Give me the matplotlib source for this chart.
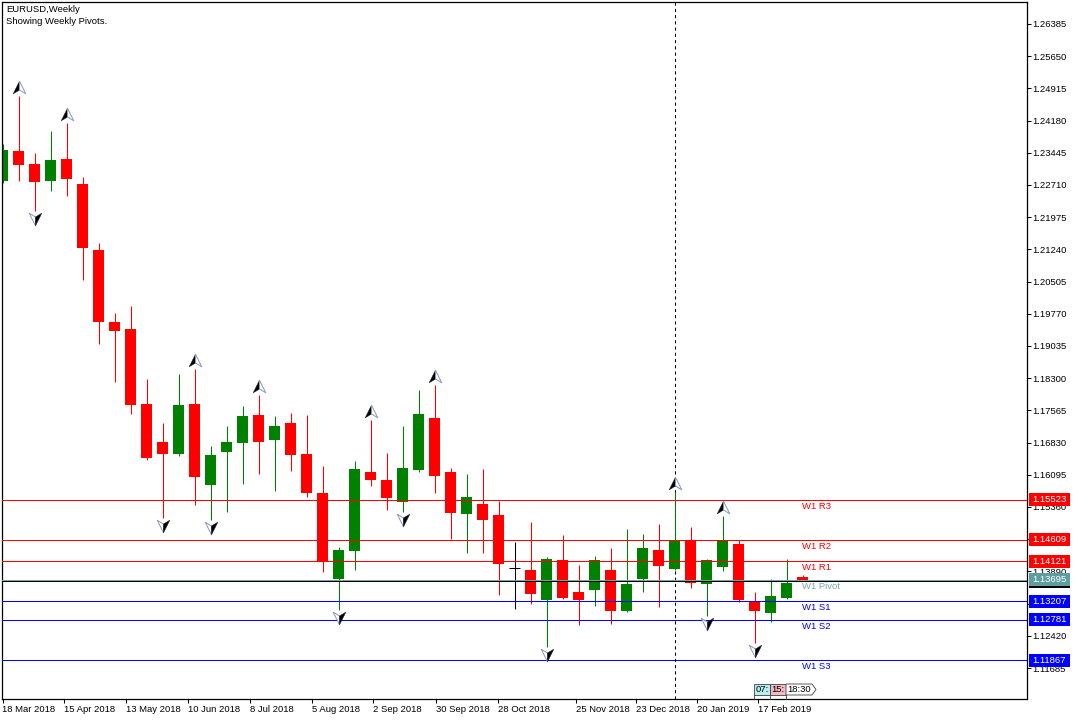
import matplotlib
matplotlib.use("Agg")
import numpy as np
import matplotlib.pyplot as plt
from matplotlib.path import Path
from matplotlib.patches import Rectangle, Polygon
from matplotlib import transforms
from matplotlib.ticker import FormatStrFormatter

plt.rcParams['font.family'] = ['Liberation Sans', 'DejaVu Sans']

title = "EURUSD,Weekly"
subtitle = "Showing Weekly Pivots."

# weekly OHLC, oldest first
opens = [1.22808, 1.23486, 1.23189, 1.22808, 1.23303, 1.22733, 1.21226, 1.19583, 1.19423, 1.17711,
         1.16844, 1.16570, 1.17711, 1.15869, 1.16615, 1.16828, 1.17460, 1.16889, 1.17277, 1.16570,
         1.15680, 1.13717, 1.14363, 1.16159, 1.15976, 1.15481, 1.16211, 1.17392, 1.16159, 1.15207,
         1.15429, 1.15177, 1.13961, 1.13922, 1.13244, 1.14150, 1.13427, 1.13472, 1.13922, 1.12986,
         1.13717, 1.14379, 1.13945, 1.14584, 1.13602, 1.13990, 1.14515, 1.13221, 1.12933, 1.13290,
         1.13770]
highs = [1.23650, 1.24742, 1.23440, 1.23943, 1.24118, 1.22893, 1.21379, 1.19788, 1.19948, 1.18282,
         1.17277, 1.18396, 1.18510, 1.16752, 1.17209, 1.17665, 1.17917, 1.17437, 1.17506, 1.17460,
         1.16296, 1.14447, 1.16410, 1.17346, 1.16593, 1.17209, 1.18031, 1.18145, 1.16250, 1.16113,
         1.16227, 1.15497, 1.14554, 1.15018, 1.14219, 1.14721, 1.14036, 1.14242, 1.14424, 1.14858,
         1.14744, 1.14972, 1.15702, 1.14904, 1.14173, 1.15155, 1.14607, 1.13420, 1.13717, 1.14183,
         1.13800]
lows = [1.22750, 1.22808, 1.22123, 1.22580, 1.22466, 1.20548, 1.19087, 1.18220, 1.17490, 1.16433,
        1.15116, 1.16524, 1.15412, 1.15070, 1.15253, 1.15892, 1.16120, 1.15732, 1.16189, 1.15595,
        1.13883, 1.13009, 1.13922, 1.15846, 1.15298, 1.15253, 1.16166, 1.15686, 1.14630, 1.14317,
        1.14317, 1.13358, 1.13025, 1.13153, 1.12158, 1.13260, 1.12673, 1.13107, 1.12696, 1.12963,
        1.13420, 1.13077, 1.13922, 1.13511, 1.12872, 1.13899, 1.13191, 1.12249, 1.12742, 1.13269,
        1.13660]
closes = [1.23509, 1.23173, 1.22785, 1.23281, 1.22854, 1.21279, 1.19590, 1.19384, 1.17695, 1.16479,
          1.16570, 1.17688, 1.16052, 1.16547, 1.16844, 1.17437, 1.16844, 1.17209, 1.16547, 1.15673,
          1.14111, 1.14379, 1.16227, 1.15983, 1.15572, 1.16250, 1.17483, 1.16074, 1.15230, 1.15588,
          1.15070, 1.14066, 1.13961, 1.13381, 1.14173, 1.13283, 1.13244, 1.14150, 1.12993, 1.13602,
          1.14424, 1.14013, 1.14614, 1.13625, 1.14150, 1.14614, 1.13237, 1.12993, 1.13335, 1.13633,
          1.13668]

# bars carrying a fractal arrow
up_fractals = [1, 4, 12, 16, 23, 27, 42, 45]
down_fractals = [2, 10, 13, 21, 25, 34, 44, 47]

pivot_names = ["W1 R3", "W1 R2", "W1 R1", "W1 Pivot", "W1 S1", "W1 S2", "W1 S3"]
pivot_levels = [1.15523, 1.14609, 1.14121, 1.13695, 1.13207, 1.12781, 1.11867]
pivot_colors = ["#ff0000", "#ff0000", "#ff0000", "#5f9ea0", "#0000ff", "#0000ff", "#0000ff"]

price_ticks = [1.26385, 1.25650, 1.24915, 1.24180, 1.23445, 1.22710, 1.21975, 1.21240, 1.20505,
               1.19770, 1.19035, 1.18300, 1.17565, 1.16830, 1.16095, 1.15360, 1.14625, 1.13890,
               1.13155, 1.12420, 1.11685]
date_labels = ["18 Mar 2018", "15 Apr 2018", "13 May 2018", "10 Jun 2018", "8 Jul 2018",
               "5 Aug 2018", "2 Sep 2018", "30 Sep 2018", "28 Oct 2018", "25 Nov 2018",
               "23 Dec 2018", "20 Jan 2019", "17 Feb 2019"]
date_pos = [0, 3.84, 7.72, 11.59, 15.47, 19.34, 23.17, 27.08, 30.95, 35.83, 39.61, 43.42, 47.23]
separator_bar = 42
countdown = ["07:", "15:", "18:30"]

W, H = 1080, 720
fig = plt.figure(figsize=(W / 100, H / 100), dpi=100)
fig.patch.set_facecolor('white')
ax = fig.add_axes([2 / W, 21 / H, 1025 / W, 697 / H])
pix = transforms.Affine2D().scale(1 / W, -1 / H).translate(0, 1) + fig.transFigure

ylo, yhi = 1.109774, 1.26887
px_per_price = 697 / (yhi - ylo)

o = np.array(opens); hi = np.array(highs); lo = np.array(lows); c = np.array(closes)
idx = np.arange(len(o))
cols = np.where(c > o, '#008000', np.where(c < o, '#ff0000', '#000000'))

ax.vlines(idx, lo, hi, colors=cols, lw=0.75, zorder=2)
body = np.abs(c - o)
ax.bar(idx, body, bottom=np.minimum(o, c), width=0.69, color=cols, lw=0, zorder=2)
doji = idx[c == o]
ax.hlines(c[doji], doji - 0.35, doji + 0.35, colors='black', lw=0.75, zorder=2)

# fractal arrows (two-tone)
left_half = Path([(0, 1), (-1, -1), (0, -0.4), (0, 1)], [1, 2, 2, 79])
right_half = Path([(0, 1), (1, -1), (0, -0.4), (0, 1)], [1, 2, 2, 79])
down_left = Path([(0, -1), (-1, 1), (0, 0.4), (0, -1)], [1, 2, 2, 79])
down_right = Path([(0, -1), (1, 1), (0, 0.4), (0, -1)], [1, 2, 2, 79])
up_tr = transforms.offset_copy(ax.transData, fig=fig, x=0, y=9, units='dots')
dn_tr = transforms.offset_copy(ax.transData, fig=fig, x=0, y=-8, units='dots')
ms = 9
ax.plot(up_fractals, hi[up_fractals], ls='none', marker=left_half, ms=ms, mfc='black',
        mec='#202020', mew=0.4, transform=up_tr, zorder=6)
ax.plot(up_fractals, hi[up_fractals], ls='none', marker=right_half, ms=ms, mfc='white',
        mec='#8898b8', mew=0.7, transform=up_tr, zorder=6)
ax.plot(down_fractals, lo[down_fractals], ls='none', marker=down_left, ms=ms, mfc='white',
        mec='#8898b8', mew=0.7, transform=dn_tr, zorder=6)
ax.plot(down_fractals, lo[down_fractals], ls='none', marker=down_right, ms=ms, mfc='black',
        mec='#202020', mew=0.4, transform=dn_tr, zorder=6)

# pivot lines
lab_tr = transforms.offset_copy(ax.transData, fig=fig, x=0, y=-2, units='dots')
for name, lvl, col in zip(pivot_names, pivot_levels, pivot_colors):
    lc = '#7aa6a6' if name == "W1 Pivot" else col
    ax.axhline(lvl, color=lc, lw=0.75, zorder=3)
    ax.text(len(o) - 1, lvl, name, color=lc, fontsize=6.8, ha='left', va='top',
            transform=lab_tr, zorder=4)

# bid line
bid = closes[-1]
ax.axhline(bid, color='black', lw=0.75, zorder=3)

ax.axvline(separator_bar, color='black', lw=0.75, ls=(0, (3, 3)), zorder=1)

ax.set_xlim(-0.5 / 16, -0.5 / 16 + 1025 / 16)
ax.set_ylim(ylo, yhi)

ax.yaxis.tick_right()
ax.set_yticks(price_ticks)
ax.yaxis.set_major_formatter(FormatStrFormatter('%.5f'))
ax.tick_params(axis='y', length=3, width=0.75, direction='out', pad=1, labelsize=6.8)
ax.set_xticks(date_pos)
ax.set_xticklabels(date_labels, ha='left')
ax.tick_params(axis='x', length=3, width=0.75, direction='out', pad=1.5, labelsize=6.8)
for s in ax.spines.values():
    s.set_linewidth(0.9)
    s.set_color('black')

# price boxes on the right scale
box_tr = transforms.blended_transform_factory(pix, ax.transData)
box_h = 13 / px_per_price


def price_box(level, fc, z):
    ax.add_patch(Rectangle((1029, level - box_h / 2), 41, box_h, transform=box_tr,
                           fc=fc, ec='none', clip_on=False, zorder=z))
    ax.text(1032, level, "%.5f" % level, transform=box_tr, fontsize=6.8, color='white',
            ha='left', va='center', clip_on=False, zorder=z + 0.5)


price_box(bid, 'black', 7)
for lvl, col in zip(pivot_levels, pivot_colors):
    price_box(lvl, col, 8)

# header
fig.text(6, 9, title, transform=pix, fontsize=6.8, va='center', ha='left')
fig.text(6, 21, subtitle, transform=pix, fontsize=6.8, va='center', ha='left')

# candle countdown boxes
cd_fill = ['#b4eef0', '#f6b8c0', 'white']
cd_x = [754, 770, 786]
cd_w = [16, 16, 26]
for txt, x0, w, fc in zip(countdown, cd_x, cd_w, cd_fill):
    if txt == countdown[-1]:
        shape = Polygon([(x0, 684), (x0 + w, 684), (x0 + w + 4, 689.5), (x0 + w, 695), (x0, 695)],
                        closed=True, fc=fc, ec='#404040', lw=0.6, transform=pix)
    else:
        shape = Rectangle((x0, 684), w, 11, fc=fc, ec='#404040', lw=0.6, transform=pix)
    fig.add_artist(shape)
    fig.add_artist(plt.Line2D([x0, x0], [695, 699], color='#404040', lw=0.6, transform=pix))
    fig.text(x0 + w / 2, 689.5, txt, transform=pix, fontsize=6.8, ha='center', va='center')

fig.savefig("out.png", dpi=100, facecolor='white')
